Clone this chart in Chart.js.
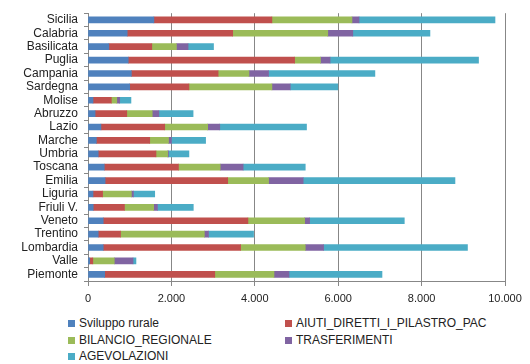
<!DOCTYPE html>
<html>
<head>
<meta charset="utf-8">
<script src="https://cdn.jsdelivr.net/npm/chart.js@4"></script>
<style>
  body { margin: 0; background: #fff; font-family: "Liberation Sans", Arial, sans-serif; }
  #wrap { position: relative; width: 530px; height: 364px; }
  canvas { position: absolute; left: 0; top: 0; }
  .leg { position: absolute; font-size: 12px; color: #222; line-height: 14px; white-space: nowrap; }
  .leg i { display: inline-block; width: 7px; height: 7px; margin-right: 4px; vertical-align: 0px; }
</style>
</head>
<body>
<div id="wrap">
  <canvas id="chart" width="530" height="310"></canvas>
  <div id="legend"></div>
</div>
<script>
// regioni, dall'alto in basso
const regioni = ["Sicilia", "Calabria", "Basilicata", "Puglia", "Campania", "Sardegna", "Molise",
  "Abruzzo", "Lazio", "Marche", "Umbria", "Toscana", "Emilia", "Liguria", "Friuli V.", "Veneto",
  "Trentino", "Lombardia", "Valle", "Piemonte"];

const svilupporurale = [1580, 940, 500, 965, 1040, 1000, 120, 170, 310, 200, 245, 390, 410, 120, 125, 365, 245, 365, 40, 400];
const aiutiDiretti = [2830, 2530, 1030, 3990, 2080, 1420, 440, 760, 1530, 1280, 1385, 1780, 2940, 230, 750, 3470, 535, 3295, 75, 2640];
const bilancio = [1920, 2280, 590, 620, 740, 1990, 130, 610, 1030, 450, 280, 1000, 980, 690, 700, 1360, 2010, 1550, 515, 1420];
const trasferimenti = [170, 600, 280, 230, 470, 440, 70, 160, 290, 70, 20, 550, 830, 50, 90, 120, 100, 440, 450, 360];
const agevolazioni = [3260, 1850, 610, 3560, 2550, 1140, 270, 820, 2080, 820, 490, 1490, 3640, 510, 860, 2270, 1080, 3450, 70, 2230];

const serie = [
  { nome: "Sviluppo rurale", dati: svilupporurale, colore: "#4F81BD" },
  { nome: "AIUTI_DIRETTI_I_PILASTRO_PAC", dati: aiutiDiretti, colore: "#C0504D" },
  { nome: "BILANCIO_REGIONALE", dati: bilancio, colore: "#9BBB59" },
  { nome: "TRASFERIMENTI", dati: trasferimenti, colore: "#8064A2" },
  { nome: "AGEVOLAZIONI", dati: agevolazioni, colore: "#4BACC6" },
];

function formatta(v) {
  // separatore delle migliaia all'italiana
  return String(v).replace(/\B(?=(\d{3})+(?!\d))/g, ".");
}

new Chart(document.getElementById("chart"), {
  type: "bar",
  data: {
    labels: regioni,
    datasets: serie.map((s) => ({
      label: s.nome,
      data: s.dati,
      backgroundColor: s.colore,
      barThickness: 6,
    })),
  },
  options: {
    indexAxis: "y",
    responsive: false,
    animation: false,
    layout: { padding: { top: 7, right: 25, left: 0, bottom: 0 } },
    scales: {
      x: {
        stacked: true,
        min: 0,
        max: 10000,
        ticks: {
          stepSize: 2000,
          color: "#222",
          font: { family: "Liberation Sans", size: 11 },
          padding: 6,
          callback: (v) => formatta(v),
        },
        grid: { color: "#878787", tickLength: 5, drawTicks: true },
        border: { color: "#878787" },
        afterFit: (scale) => { scale.height = 29; },
      },
      y: {
        stacked: true,
        ticks: {
          autoSkip: false,
          color: "#222",
          font: { family: "Liberation Sans", size: 12 },
          padding: 6,
        },
        grid: { offset: true, drawOnChartArea: false, color: "#878787", tickLength: 4 },
        border: { color: "#878787" },
        afterFit: (scale) => { scale.width = 88; },
      },
    },
    plugins: {
      legend: { display: false },
      tooltip: { enabled: false },
    },
  },
});

// legenda su due colonne
const legend = document.getElementById("legend");
const pos = [[68, 316], [285, 316], [68, 333], [285, 333], [68, 349]];
serie.forEach((s, i) => {
  const d = document.createElement("div");
  d.className = "leg";
  d.style.left = pos[i][0] + "px";
  d.style.top = pos[i][1] + "px";
  d.innerHTML = `<i style="background:${s.colore}"></i>${s.nome}`;
  legend.appendChild(d);
});
</script>
</body>
</html>
